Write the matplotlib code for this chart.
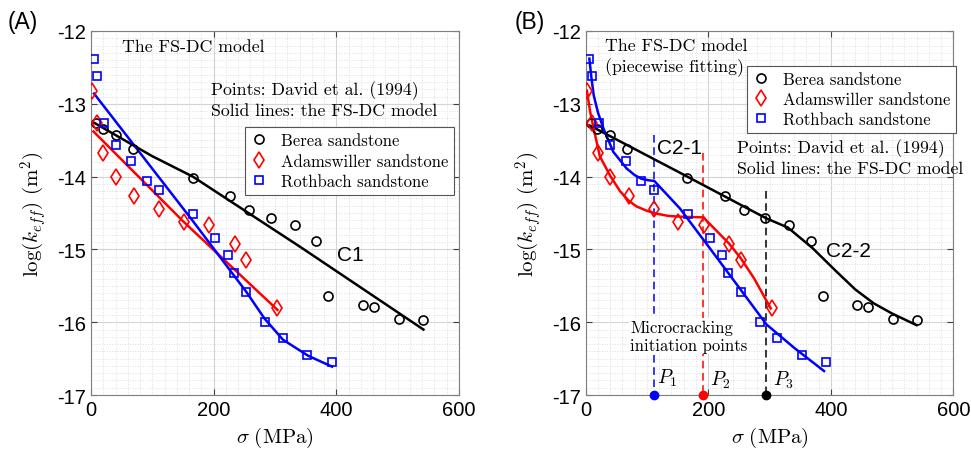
import numpy as np
import matplotlib
matplotlib.use("Agg")
import matplotlib.pyplot as plt
from matplotlib.ticker import MultipleLocator

plt.rcParams['mathtext.fontset'] = 'cm'
plt.rcParams['axes.unicode_minus'] = False
plt.rcParams['font.family'] = ['Liberation Sans', 'DejaVu Sans']

# David et al. (1994) measurements: confining stress (MPa) vs log permeability (m^2)
berea_s = [8, 19, 40, 68, 166, 227, 258, 293, 332, 367, 387, 443, 461, 502, 541]
berea_k = [-13.27, -13.35, -13.43, -13.62, -14.02, -14.26, -14.46, -14.57, -14.66,
           -14.88, -15.64, -15.77, -15.79, -15.95, -15.97]
adams_s = [2, 10, 20, 40, 70, 111, 151, 193, 234, 253, 304]
adams_k = [-12.82, -13.27, -13.68, -14.0, -14.27, -14.45, -14.63, -14.66, -14.93, -15.15, -15.81]
roth_s = [5, 10, 21, 40, 65, 91, 111, 167, 203, 223, 233, 253, 284, 313, 353, 393]
roth_k = [-12.39, -12.62, -13.26, -13.57, -13.78, -14.06, -14.18, -14.52, -14.84, -15.08,
          -15.33, -15.59, -16.0, -16.21, -16.45, -16.55]

# FS-DC model, single fit (panel A)
fitA_berea_s = [5, 100, 166, 342, 542]
fitA_berea_k = [-13.26, -13.72, -14.0, -14.97, -16.1]
fitA_adams_s = [4, 151, 304]
fitA_adams_k = [-13.38, -14.62, -15.83]
fitA_roth_s = [5, 167, 253, 283, 313, 354, 393]
fitA_roth_k = [-12.86, -14.62, -15.58, -15.95, -16.24, -16.46, -16.61]

# FS-DC model, piecewise fit (panel B)
fitB_berea_s = [7, 150, 294, 330, 370, 410, 440, 470, 500, 540]
fitB_berea_k = [-13.3, -13.93, -14.57, -14.70, -14.98, -15.31, -15.55, -15.74, -15.88, -16.04]
fitB_adams_s = [2, 7, 13, 23, 40, 56, 70, 83, 100, 116, 135, 153, 192, 234, 253, 275, 302]
fitB_adams_k = [-12.82, -13.1, -13.34, -13.72, -13.99, -14.2, -14.33, -14.41, -14.47,
                -14.51, -14.54, -14.55, -14.56, -14.92, -15.12, -15.4, -15.81]
fitB_roth_s = [6, 9, 13, 20, 29, 45, 67, 80, 91, 102, 112, 154, 204, 250, 295, 340, 389]
fitB_roth_k = [-12.38, -12.62, -12.88, -13.12, -13.34, -13.66, -13.89, -13.98, -14.03,
               -14.05, -14.06, -14.44, -15.0, -15.52, -16.03, -16.35, -16.67]

# microcracking initiation stresses P1, P2, P3 and top of their markers
p_s = [112, 192, 294]
p_top = [-13.43, -13.68, -14.2]
p_col = ['b', 'r', 'k']

serif = 'cmr10'
fs_txt = 12.8
fs_leg = 12


def style_axes(ax):
    ax.set_xlim(0, 600)
    ax.set_ylim(-17, -12)
    ax.set_xticks([0, 200, 400, 600])
    ax.set_yticks([-17, -16, -15, -14, -13, -12])
    ax.xaxis.set_minor_locator(MultipleLocator(20))
    ax.yaxis.set_minor_locator(MultipleLocator(0.1))
    ax.grid(which='major', color='#d4d4d4', lw=0.8)
    ax.grid(which='minor', color='#dedede', ls=':', lw=0.7)
    ax.set_axisbelow(True)
    ax.tick_params(which='major', direction='in', top=True, right=True,
                   length=4, labelsize=14.5, color='#404040')
    ax.tick_params(which='minor', length=0)
    for sp in ax.spines.values():
        sp.set_color('#7f7f7f')
    ax.set_xlabel(r'$\sigma\ (\mathrm{MPa})$', fontsize=15)
    ax.set_ylabel(r'$\log(k_{eff})\ (\mathrm{m}^2)$', fontsize=15, labelpad=6)


def scatter_points(ax):
    h1, = ax.plot(berea_s, berea_k, 'o', mfc='none', mec='k', ms=6.5, mew=1.2,
                  label='Berea sandstone', zorder=4)
    h2, = ax.plot(adams_s, adams_k, 'd', mfc='none', mec='r', ms=8, mew=1.2,
                  label='Adamswiller sandstone', zorder=4)
    h3, = ax.plot(roth_s, roth_k, 's', mfc='none', mec='b', ms=6, mew=1.2,
                  label='Rothbach sandstone', zorder=4)
    return [h1, h2, h3]


def add_legend(ax, handles, anchor):
    leg = ax.legend(handles=handles, loc='upper left', bbox_to_anchor=anchor,
                    prop={'family': serif, 'size': fs_leg}, fancybox=False,
                    edgecolor='#555555', framealpha=1, handlelength=1.0,
                    borderpad=0.35, labelspacing=0.3, borderaxespad=0)
    leg.get_frame().set_linewidth(0.8)


fig = plt.figure(figsize=(9.71, 4.6), dpi=100)

# (A) single FS-DC fit
ax1 = fig.add_axes([0.0937, 0.139, 0.379, 0.7915])
style_axes(ax1)
ax1.plot(fitA_berea_s, fitA_berea_k, 'k-', lw=1.8, zorder=3)
ax1.plot(fitA_adams_s, fitA_adams_k, 'r-', lw=1.8, zorder=3)
ax1.plot(fitA_roth_s, fitA_roth_k, 'b-', lw=1.8, zorder=3)
hs = scatter_points(ax1)
add_legend(ax1, hs, (0.418, 0.736))
ax1.text(0.084, 0.959, 'The FS-DC model', transform=ax1.transAxes,
         family=serif, fontsize=fs_txt, va='center')
ax1.text(0.326, 0.814, 'Points: David et al. (1994)\nSolid lines: the FS-DC model',
         transform=ax1.transAxes, family=serif, fontsize=fs_txt, va='center',
         linespacing=1.3)
ax1.text(0.704, 0.387, 'C1', transform=ax1.transAxes, fontsize=15,
         ha='center', va='center')
fig.text(0.008, 0.975, '(A)', fontsize=16.5, va='top')

# (B) piecewise FS-DC fit
ax2 = fig.add_axes([0.6032, 0.139, 0.3786, 0.7915])
style_axes(ax2)
ax2.plot(fitB_berea_s, fitB_berea_k, 'k-', lw=1.8, zorder=3)
ax2.plot(fitB_adams_s, fitB_adams_k, 'r-', lw=1.8, zorder=3)
ax2.plot(fitB_roth_s, fitB_roth_k, 'b-', lw=1.8, zorder=3)
for s, top, c in zip(p_s, p_top, p_col):
    ax2.plot([s, s], [top, -17], color=c, ls=(0, (5, 3)), lw=1.1, zorder=2)
    ax2.plot(s, -17, 'o', color=c, ms=6, clip_on=False, zorder=6)
hs = scatter_points(ax2)
add_legend(ax2, hs, (0.438, 0.905))
ax2.text(0.0525, 0.93, 'The FS-DC model\n(piecewise fitting)', transform=ax2.transAxes,
         family=serif, fontsize=fs_txt, va='center', linespacing=1.3)
ax2.text(0.411, 0.654, 'Points: David et al. (1994)\nSolid lines: the FS-DC model',
         transform=ax2.transAxes, family=serif, fontsize=fs_txt, va='center',
         linespacing=1.3)
ax2.text(0.254, 0.681, 'C2-1', transform=ax2.transAxes, fontsize=15,
         ha='center', va='center')
ax2.text(0.716, 0.396, 'C2-2', transform=ax2.transAxes, fontsize=15,
         ha='center', va='center')
ax2.text(0.121, 0.162, 'Microcracking\ninitiation points', transform=ax2.transAxes,
         family=serif, fontsize=12, va='center', linespacing=1.25, zorder=5,
         bbox=dict(facecolor='white', edgecolor='none', pad=1))
for i, (x, y) in enumerate([(0.221, 0.049), (0.365, 0.044), (0.537, 0.044)]):
    ax2.text(x, y, r'$P_%d$' % (i + 1), transform=ax2.transAxes, fontsize=14,
             ha='center', va='center')
fig.text(0.53, 0.975, '(B)', fontsize=16.5, va='top')

fig.savefig('out.png', dpi=100)
